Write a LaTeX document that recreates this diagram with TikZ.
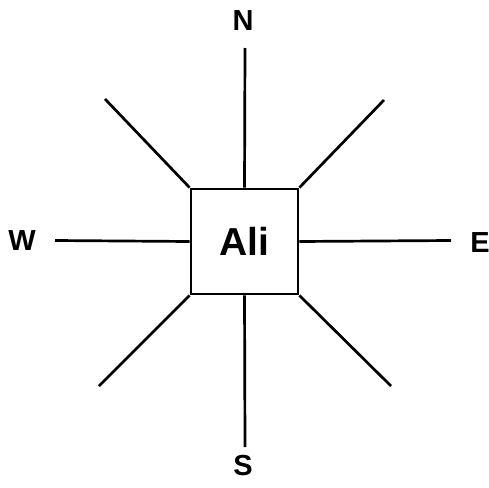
\documentclass[tikz,border=0pt]{standalone}
\usepackage{fontspec}
\setmainfont{Liberation Sans}
\begin{document}
\begin{tikzpicture}[x=1pt,y=-1pt,
  spoke/.style={line width=2.7pt},
  dirlabel/.style={font=\fontsize{29}{29}\selectfont\bfseries, inner sep=0pt},
  centerbox/.style={draw, line width=2.8pt, minimum width=107pt, minimum height=105pt, inner sep=0pt, font=\fontsize{39}{39}\selectfont\bfseries}]
\useasboundingbox (0,0) rectangle (489,487);
\node[centerbox] (ali) at (244.5,241.5) {Ali};
\node[dirlabel] (n) at (243,21) {N};
\node[dirlabel] (s) at (243,466) {S};
\node[dirlabel] (w) at (22,241) {W};
\node[dirlabel] (e) at (480,243) {E};
\coordinate (nend) at (245,48);
\coordinate (send) at (245,447);
\coordinate (wend) at (55,240.5);
\coordinate (eend) at (451,240.5);
\coordinate (nwend) at (105,99);
\coordinate (neend) at (384,100);
\coordinate (swend) at (99,386);
\coordinate (seend) at (391,386);
\draw[spoke] (ali.north) -- (nend);
\draw[spoke] (ali.south) -- (send);
\draw[spoke] (ali.west) -- (wend);
\draw[spoke] (ali.east) -- (eend);
\draw[spoke] (ali.north west) -- (nwend);
\draw[spoke] (ali.north east) -- (neend);
\draw[spoke] (ali.south west) -- (swend);
\draw[spoke] (ali.south east) -- (seend);
\end{tikzpicture}
\end{document}
